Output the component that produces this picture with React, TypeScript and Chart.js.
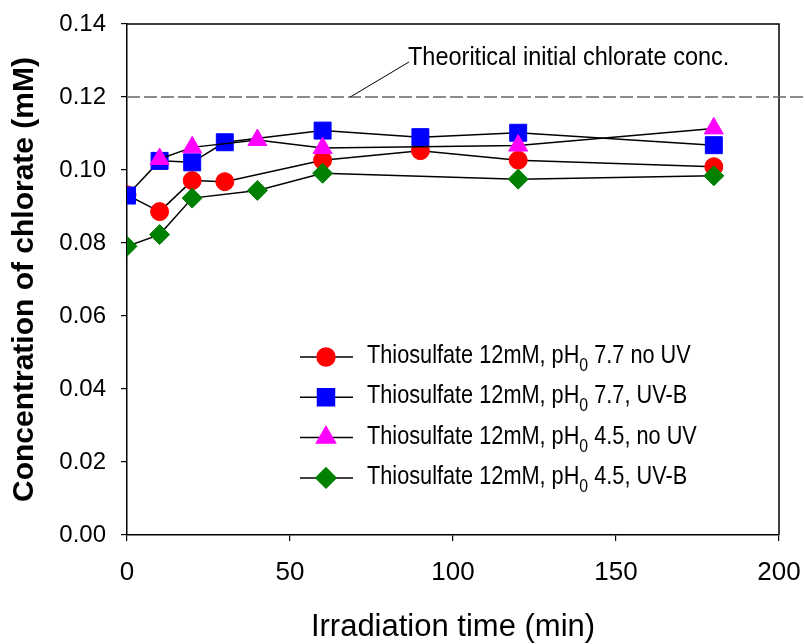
import React, { useEffect, useRef } from 'react';
import { Chart, registerables } from 'chart.js';
import { drawPoint } from 'chart.js/helpers';

Chart.register(...registerables);

// ---- data ----
const timesPh77 = [0, 10, 20, 30, 60, 90, 120, 180];
const timesPh45NoUV = [10, 20, 40, 60, 120, 180];
const timesPh45UVB = [0, 10, 20, 40, 60, 120, 180];

const ph77NoUV = [0.0932, 0.0886, 0.0971, 0.0968, 0.1027, 0.1053, 0.1027, 0.1009];
const ph77UVB = [0.0930, 0.1025, 0.1021, 0.1076, 0.1108, 0.1090, 0.1102, 0.1068];
const ph45NoUV = [0.1030, 0.1062, 0.1082, 0.1060, 0.1067, 0.1114];
const ph45UVB = [0.0791, 0.0823, 0.0923, 0.0944, 0.0991, 0.0975, 0.0984];

const seriesPrefix = 'Thiosulfate 12mM, pH';
const seriesSub = '0';
const seriesSuffixes = [' 7.7 no UV', ' 7.7, UV-B', ' 4.5, no UV', ' 4.5, UV-B'];

const xTicks = [0, 50, 100, 150, 200];
const yTicks = [0, 0.02, 0.04, 0.06, 0.08, 0.1, 0.12, 0.14];

const THEORETICAL = 0.12;
const ANNOTATION_TEXT = 'Theoritical initial chlorate conc.';
const LEADER_START_X = 68.5;
const LEADER_END_X = 86.5;
const LEADER_END_Y = 0.1296;

const X_TITLE = 'Irradiation time (min)';
const Y_TITLE = 'Concentration of chlorate (mM)';

const SANS = "'Liberation Sans', Arial, sans-serif";

const styles = [
  { color: '#ff0000', pointStyle: 'circle', radius: 9 },
  { color: '#0000ff', pointStyle: 'rect', radius: 12 },
  { color: '#ff00ff', pointStyle: 'triangle', radius: 11 },
  { color: '#008000', pointStyle: 'rectRot', radius: 10 },
];

const toPts = (xs: number[], ys: number[]) => xs.map((x, i) => ({ x, y: ys[i] }));

// draw horizontally condensed text, returns advance width
function narrowText(ctx: CanvasRenderingContext2D, text: string, x: number, y: number, sx: number) {
  ctx.save();
  ctx.translate(x, y);
  ctx.scale(sx, 1);
  ctx.fillText(text, 0, 0);
  const w = ctx.measureText(text).width * sx;
  ctx.restore();
  return w;
}

const overlayPlugin = {
  id: 'overlay',
  afterDraw(chart: any) {
    const { ctx, chartArea: a, scales } = chart;
    const xs = scales.x;
    const ys = scales.y;
    ctx.save();
    // frame (top & right)
    ctx.strokeStyle = '#000';
    ctx.lineWidth = 1.5;
    ctx.beginPath();
    ctx.moveTo(a.left, a.top);
    ctx.lineTo(a.right, a.top);
    ctx.lineTo(a.right, a.bottom);
    ctx.stroke();

    // theoretical dashed line
    const yRef = ys.getPixelForValue(THEORETICAL);
    ctx.strokeStyle = '#666';
    ctx.lineWidth = 1.3;
    ctx.setLineDash([13, 4]);
    ctx.beginPath();
    ctx.moveTo(a.left, yRef);
    ctx.lineTo(chart.width, yRef);
    ctx.stroke();
    ctx.setLineDash([]);

    // leader line + annotation
    const lx0 = xs.getPixelForValue(LEADER_START_X);
    const lx1 = xs.getPixelForValue(LEADER_END_X);
    const ly1 = ys.getPixelForValue(LEADER_END_Y);
    ctx.strokeStyle = '#000';
    ctx.lineWidth = 1;
    ctx.beginPath();
    ctx.moveTo(lx0, yRef);
    ctx.lineTo(lx1, ly1);
    ctx.stroke();
    ctx.fillStyle = '#000';
    ctx.font = `25px ${SANS}`;
    ctx.textAlign = 'left';
    ctx.textBaseline = 'alphabetic';
    narrowText(ctx, ANNOTATION_TEXT, lx1 - 1, ly1 + 3, 0.94);

    // legend
    const legLeft = a.left + 173;
    const legTop = a.top + 333;
    const rowH = 40.3;
    const sx = 0.835;
    chart.data.datasets.forEach((ds: any, i: number) => {
      const cy = legTop + i * rowH;
      ctx.strokeStyle = '#000';
      ctx.lineWidth = 1.5;
      ctx.beginPath();
      ctx.moveTo(legLeft, cy);
      ctx.lineTo(legLeft + 53, cy);
      ctx.stroke();
      ctx.fillStyle = ds.pointBackgroundColor;
      ctx.strokeStyle = ds.pointBorderColor;
      drawPoint(ctx, { pointStyle: ds.pointStyle, radius: ds.pointRadius, borderWidth: 1, rotation: 0 }, legLeft + 26, cy);
      ctx.fillStyle = '#000';
      ctx.textBaseline = 'alphabetic';
      let tx = legLeft + 67;
      const base = cy + 6;
      ctx.font = `26px ${SANS}`;
      tx += narrowText(ctx, seriesPrefix, tx, base, sx);
      ctx.font = `19px ${SANS}`;
      tx += narrowText(ctx, seriesSub, tx, base + 8, sx);
      ctx.font = `26px ${SANS}`;
      narrowText(ctx, seriesSuffixes[i], tx, base, sx);
    });
    ctx.restore();
  },
};

export default function App() {
  const ref = useRef<HTMLCanvasElement>(null);
  useEffect(() => {
    if (!ref.current) return;
    const seriesData = [
      toPts(timesPh77, ph77NoUV),
      toPts(timesPh77, ph77UVB),
      toPts(timesPh45NoUV, ph45NoUV),
      toPts(timesPh45UVB, ph45UVB),
    ];
    const chart = new Chart(ref.current, {
      type: 'line',
      data: {
        datasets: seriesData.map((d, i) => ({
          label: seriesPrefix + seriesSub + seriesSuffixes[i],
          data: d,
          borderColor: '#000',
          borderWidth: 1.5,
          tension: 0,
          fill: false,
          pointStyle: styles[i].pointStyle,
          pointRadius: styles[i].radius,
          pointBackgroundColor: styles[i].color,
          pointBorderColor: styles[i].color,
          pointBorderWidth: 1,
          order: 4 - i,
        })),
      },
      options: {
        responsive: false,
        animation: false,
        events: [],
        layout: { padding: { top: 24, right: 27, left: 0, bottom: 0 } },
        plugins: { legend: { display: false }, tooltip: { enabled: false } },
        scales: {
          x: {
            type: 'linear',
            min: 0,
            max: 200,
            afterBuildTicks: (s: any) => { s.ticks = xTicks.map((v) => ({ value: v })); },
            afterFit: (s: any) => { s.height = 109; s.paddingLeft = 0; s.paddingRight = 0; },
            ticks: {
              autoSkip: false,
              maxRotation: 0,
              padding: 16,
              color: '#000',
              font: { family: SANS, size: 26 },
            },
            grid: { drawOnChartArea: false, drawTicks: true, tickLength: 6, color: '#000', lineWidth: 1.2 },
            border: { display: true, color: '#000', width: 1.5 },
            title: {
              display: true,
              text: X_TITLE,
              color: '#000',
              font: { family: SANS, size: 31, lineHeight: 1 },
              padding: { top: 0, bottom: 1 },
            },
          },
          y: {
            type: 'linear',
            min: 0,
            max: 0.14,
            afterBuildTicks: (s: any) => { s.ticks = yTicks.map((v) => ({ value: v })); },
            afterFit: (s: any) => { s.width = 127; s.paddingTop = 0; s.paddingBottom = 0; },
            ticks: {
              autoSkip: false,
              padding: 15,
              color: '#000',
              font: { family: SANS, size: 24 },
              callback: (v: any) => Number(v).toFixed(2),
            },
            grid: { drawOnChartArea: false, drawTicks: true, tickLength: 6, color: '#000', lineWidth: 1.2 },
            border: { display: true, color: '#000', width: 1.5 },
            title: {
              display: true,
              text: Y_TITLE,
              color: '#000',
              font: { family: SANS, size: 30, weight: 'bold', lineHeight: 1.2 },
              padding: { top: 7, bottom: 0 },
            },
          },
        },
      },
      plugins: [overlayPlugin],
    } as any);
    return () => chart.destroy();
  }, []);
  return (
    <div style={{ position: 'absolute', left: 0, top: 0, width: 806, height: 644 }}>
      <canvas ref={ref} width={806} height={644} style={{ display: 'block' }} />
    </div>
  );
}
